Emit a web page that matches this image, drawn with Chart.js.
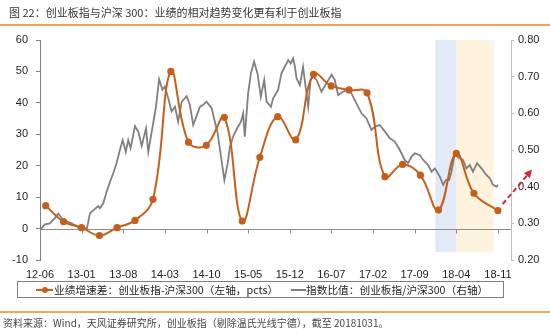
<!DOCTYPE html>
<html>
<head>
<meta charset="utf-8">
<script src="https://cdn.jsdelivr.net/npm/chart.js@4.4.1/dist/chart.umd.min.js"></script>
<style>
  body { margin: 0; background: #fff; }
  #wrap { position: relative; width: 550px; height: 334px; overflow: hidden; font-family: 'Noto Sans CJK SC', sans-serif; }
  #chart { position: absolute; left: 0; top: 0; }
  .title { position: absolute; left: 9px; top: 3px; font-size: 11px; color: #333; line-height: 18px; white-space: nowrap; }
  .rule { position: absolute; left: 0; width: 550px; height: 2px; background: #e5aa5e; }
  .legend { position: absolute; left: 17px; top: 281px; width: 485px; height: 15px; border: 1px solid #7f7f7f; font-size: 10.7px; color: #222; line-height: 15px; white-space: nowrap; }
  .legend span { position: absolute; top: 0; }
  .icon { position: absolute; top: 7px; height: 2px; }
  .dot { position: absolute; top: 4.5px; width: 6px; height: 6px; border-radius: 50%; background: #c65f1c; }
  .source { position: absolute; left: 3px; top: 315px; font-size: 10px; color: #444; line-height: 16px; white-space: nowrap; }
</style>
</head>
<body>
<div id="wrap">
  <canvas id="chart" width="550" height="334"></canvas>
  <div class="title">图 22：创业板指与沪深 300：业绩的相对趋势变化更有利于创业板指</div>
  <div class="rule" style="top:24px"></div>
  <div class="legend">
    <div class="icon" style="left:18px;width:17px;background:#c65f1c"></div>
    <div class="dot" style="left:24px"></div>
    <span style="left:36px">业绩增速差：创业板指-沪深300（左轴，pcts）</span>
    <div class="icon" style="left:273px;width:15px;background:#808080"></div>
    <span style="left:288px">指数比值：创业板指/沪深300（右轴）</span>
  </div>
  <div class="rule" style="top:311px"></div>
  <div class="source">资料来源：Wind，天风证券研究所，创业板指（剔除温氏光线宁德），截至 20181031。</div>
</div>
<script>
// x axis labels (yy-mm), one every 7 months
var tickLabels = ['12-06', '13-01', '13-08', '14-03', '14-10', '15-05', '15-12', '16-07', '17-02', '17-09', '18-04', '18-11'];

// earnings growth gap, ChiNext minus CSI300 (pcts, left axis), quarterly
var perfDates = ['2012-06-30', '2012-09-30', '2012-12-31', '2013-03-31', '2013-06-30', '2013-09-30', '2013-12-31',
  '2014-03-31', '2014-06-30', '2014-09-30', '2014-12-31', '2015-03-31', '2015-06-30', '2015-09-30', '2015-12-31',
  '2016-03-31', '2016-06-30', '2016-09-30', '2016-12-31', '2017-03-31', '2017-06-30', '2017-09-30', '2017-12-31',
  '2018-03-31', '2018-06-30', '2018-10-31'];
var perfGap = [7.3, 2.2, 0.3, -2.2, 0.3, 2.6, 9.3,
  50.0, 27.5, 26.5, 35.4, 2.4, 22.7, 35.6, 28.2,
  49.1, 45.4, 44.1, 43.2, 16.5, 20.4, 17.0, 5.9,
  23.9, 11.2, 5.7];

// index ratio, ChiNext / CSI300 (right axis)
var ratioDates = [
  '2012-06-01', '2012-06-26', '2012-07-21', '2012-08-16', '2012-09-03', '2012-09-28', '2012-11-02', '2012-12-06',
  '2012-12-23', '2013-01-09', '2013-01-27', '2013-02-13', '2013-03-01', '2013-03-25', '2013-04-03', '2013-04-20',
  '2013-05-07', '2013-05-24', '2013-06-10', '2013-06-27', '2013-07-14', '2013-07-28', '2013-08-14', '2013-08-26',
  '2013-09-08', '2013-09-30', '2013-10-17', '2013-11-04', '2013-11-26', '2013-12-07', '2014-01-02', '2014-01-16',
  '2014-02-02', '2014-02-19', '2014-03-01', '2014-03-18', '2014-04-05', '2014-04-22', '2014-05-08', '2014-05-26',
  '2014-06-21', '2014-07-07', '2014-07-24', '2014-08-11', '2014-08-28', '2014-09-14', '2014-10-01', '2014-10-27',
  '2014-11-13', '2014-11-27', '2014-12-14', '2014-12-31', '2015-01-18', '2015-01-29', '2015-02-15', '2015-03-08',
  '2015-03-25', '2015-04-06', '2015-04-14', '2015-05-01', '2015-05-15', '2015-06-01', '2015-06-18', '2015-07-05',
  '2015-07-22', '2015-08-04', '2015-08-26', '2015-09-07', '2015-10-02', '2015-10-19', '2015-11-06', '2015-11-23',
  '2015-12-06', '2015-12-18', '2015-12-27', '2016-01-05', '2016-01-22', '2016-02-08', '2016-02-25', '2016-03-04',
  '2016-03-16', '2016-03-29', '2016-04-16', '2016-05-11', '2016-06-06', '2016-07-02', '2016-07-18', '2016-08-05',
  '2016-08-30', '2016-09-25', '2016-10-12', '2016-11-07', '2016-12-03', '2016-12-28', '2017-01-23', '2017-02-10',
  '2017-03-05', '2017-03-31', '2017-04-26', '2017-05-21', '2017-06-16', '2017-07-11', '2017-07-28', '2017-08-15',
  '2017-09-02', '2017-09-27', '2017-10-14', '2017-11-09', '2017-11-26', '2017-12-13', '2018-01-08', '2018-01-25',
  '2018-02-08', '2018-02-25', '2018-03-07', '2018-03-24', '2018-04-05', '2018-04-19', '2018-05-05', '2018-05-22',
  '2018-06-09', '2018-06-25', '2018-07-16', '2018-08-08', '2018-09-03', '2018-09-20', '2018-10-06', '2018-10-24',
  '2018-10-31'];
var ratioValues = [
  0.282, 0.297, 0.300, 0.314, 0.327, 0.309, 0.302, 0.293,
  0.282, 0.291, 0.284, 0.327, 0.336, 0.347, 0.341, 0.354,
  0.386, 0.413, 0.436, 0.464, 0.500, 0.527, 0.495, 0.527,
  0.505, 0.565, 0.550, 0.511, 0.559, 0.495, 0.573, 0.618,
  0.693, 0.664, 0.673, 0.641, 0.605, 0.618, 0.577, 0.632,
  0.647, 0.623, 0.568, 0.593, 0.618, 0.623, 0.632, 0.614,
  0.577, 0.546, 0.482, 0.418, 0.464, 0.509, 0.536, 0.562,
  0.577, 0.600, 0.536, 0.655, 0.709, 0.741, 0.709, 0.645,
  0.691, 0.632, 0.618, 0.641, 0.664, 0.709, 0.727, 0.745,
  0.736, 0.750, 0.727, 0.696, 0.677, 0.727, 0.655, 0.618,
  0.691, 0.700, 0.691, 0.659, 0.682, 0.705, 0.691, 0.650,
  0.659, 0.664, 0.655, 0.627, 0.600, 0.586, 0.555, 0.564,
  0.568, 0.550, 0.532, 0.523, 0.500, 0.473, 0.464, 0.482,
  0.491, 0.486, 0.473, 0.459, 0.441, 0.450, 0.427, 0.405,
  0.418, 0.418, 0.441, 0.491, 0.482, 0.477, 0.473, 0.450,
  0.459, 0.441, 0.464, 0.450, 0.432, 0.423, 0.405, 0.400,
  0.405];

// shaded periods
var bandStart = ['2017-12-15', '2018-04-01'];
var bandEnd = ['2018-04-01', '2018-10-10'];

// months since 2012-06
function toMonth(s) {
  var p = s.split('-').map(Number);
  return (p[0] - 2012) * 12 + (p[1] - 6) + (p[2] - 1) / 30;
}
var tickMonths = tickLabels.map(function (t) { return toMonth('20' + t + '-01'); });

var orange = '#c65f1c';
var tickFont = { family: "'Liberation Sans', Arial, sans-serif", size: 11 };

// background bands, zero line with its month ticks, and the dashed trend arrow
var extras = {
  id: 'extras',
  beforeDatasetsDraw: function (chart) {
    var c = chart.ctx, x = chart.scales.x, y = chart.scales.y;
    var colors = ['#e2eaf7', '#fdf3de'];
    c.save();
    bandStart.forEach(function (s, i) {
      var x0 = x.getPixelForValue(toMonth(s)), x1 = x.getPixelForValue(toMonth(bandEnd[i]));
      var y0 = y.getPixelForValue(60), y1 = y.getPixelForValue(-7.5);
      c.fillStyle = colors[i];
      c.fillRect(x0, y0, x1 - x0, y1 - y0);
    });
    var yz = Math.round(y.getPixelForValue(0)) + 0.5;
    c.strokeStyle = '#8c8c8c';
    c.lineWidth = 1;
    c.beginPath();
    c.moveTo(chart.chartArea.left, yz);
    c.lineTo(chart.chartArea.right, yz);
    tickMonths.forEach(function (m) {
      var px = Math.round(x.getPixelForValue(m)) + 0.5;
      c.moveTo(px, yz);
      c.lineTo(px, yz + 4);
    });
    c.stroke();
    c.restore();
  },
  afterDraw: function (chart) {
    var c = chart.ctx, x = chart.scales.x, y = chart.scales.y;
    var x0 = x.getPixelForValue(toMonth('2018-11-25')), y0 = y.getPixelForValue(7.8);
    var x1 = x.getPixelForValue(toMonth('2019-04-17')), y1 = y.getPixelForValue(18.3);
    var a = Math.atan2(y1 - y0, x1 - x0);
    c.save();
    c.strokeStyle = '#d42a3c';
    c.fillStyle = '#d42a3c';
    c.lineWidth = 2;
    c.setLineDash([5, 3]);
    c.beginPath();
    c.moveTo(x0, y0);
    c.lineTo(x1 - 5 * Math.cos(a), y1 - 5 * Math.sin(a));
    c.stroke();
    c.setLineDash([]);
    c.beginPath();
    c.moveTo(x1 + 2 * Math.cos(a), y1 + 2 * Math.sin(a));
    c.lineTo(x1 - 6 * Math.cos(a) + 4 * Math.sin(a), y1 - 6 * Math.sin(a) - 4 * Math.cos(a));
    c.lineTo(x1 - 6 * Math.cos(a) - 4 * Math.sin(a), y1 - 6 * Math.sin(a) + 4 * Math.cos(a));
    c.closePath();
    c.fill();
    c.restore();
  }
};

var ctx = document.getElementById('chart').getContext('2d');
var chart = new Chart(ctx, {
  type: 'line',
  data: {
    datasets: [{
      label: '业绩增速差：创业板指-沪深300（左轴，pcts）',
      data: perfDates.map(function (d, i) { return { x: toMonth(d), y: perfGap[i] }; }),
      yAxisID: 'y',
      borderColor: orange,
      backgroundColor: orange,
      borderWidth: 2,
      pointRadius: 2.6,
      pointHoverRadius: 2.6,
      tension: 0.4
    }, {
      label: '指数比值：创业板指/沪深300（右轴）',
      data: ratioDates.map(function (d, i) { return { x: toMonth(d), y: ratioValues[i] }; }),
      yAxisID: 'y1',
      borderColor: '#808080',
      borderWidth: 1.8,
      pointRadius: 0,
      tension: 0
    }]
  },
  options: {
    responsive: false,
    animation: false,
    layout: { padding: { top: 40, bottom: 54, left: 0, right: 0 } },
    plugins: {
      legend: { display: false },
      tooltip: { enabled: false }
    },
    scales: {
      x: {
        type: 'linear',
        min: 0,
        max: 79.2,
        afterBuildTicks: function (scale) {
          scale.ticks = tickMonths.map(function (m) { return { value: m }; });
        },
        afterFit: function (scale) { scale.height = 20; },
        grid: { display: false },
        border: { display: false },
        ticks: {
          autoSkip: false,
          maxRotation: 0,
          padding: 0,
          color: '#222',
          font: tickFont,
          callback: function (v, i) { return tickLabels[i]; }
        }
      },
      y: {
        position: 'left',
        min: -10,
        max: 60,
        afterFit: function (scale) { scale.width = 40; },
        grid: { drawOnChartArea: false, tickLength: 4, color: '#808080' },
        border: { color: '#808080' },
        ticks: { stepSize: 10, padding: 8, color: '#222', font: tickFont }
      },
      y1: {
        position: 'right',
        min: 0.2,
        max: 0.8,
        afterFit: function (scale) { scale.width = 39; },
        grid: { drawOnChartArea: false, tickLength: 3, color: '#bdbdbd' },
        border: { color: '#bdbdbd' },
        ticks: {
          stepSize: 0.1,
          padding: 4,
          color: '#222',
          font: tickFont,
          callback: function (v) { return v.toFixed(2); }
        }
      }
    }
  },
  plugins: [extras]
});
</script>
</body>
</html>
